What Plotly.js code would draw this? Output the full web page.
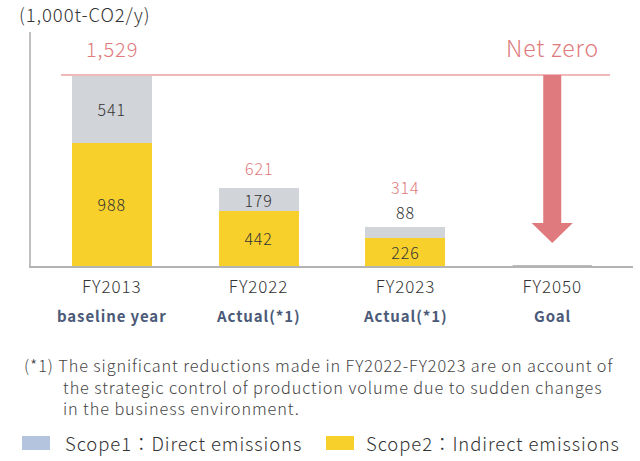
<!DOCTYPE html>
<html>
<head>
<meta charset="utf-8">
<script src="https://cdn.plot.ly/plotly-3.0.1.min.js"></script>
<style>
html,body{margin:0;padding:0;background:#fff;}
#chart{width:640px;height:461px;}
svg text{letter-spacing:0.9px;}
</style>
</head>
<body>
<div id="chart"></div>
<script>
// ---- data ----
const categories = ['FY2013', 'FY2022', 'FY2023', 'FY2050'];
const subLabels = ['baseline year', 'Actual(*1)', 'Actual(*1)', 'Goal'];
const scope1 = [541, 179, 88, 0];
const scope2 = [988, 442, 226, 0];
const totals = [1529, 621, 314];
const totalLabels = ['1,529', '621', '314'];
const scope1Labels = ['541', '179', '88', ''];
const scope2Labels = ['988', '442', '226', ''];
const unitLabel = '(1,000t-CO2/y)';
const goalLabel = 'Net zero';
const seriesNames = ['Scope1：Direct emissions', 'Scope2：Indirect emissions'];
const footnote = ['(*1) The significant reductions made in FY2022-FY2023 are on account of',
  'the strategic control of production volume due to sudden changes',
  'in the business environment.'];

// ---- style ----
const FONT = '"Noto Sans CJK JP", "Noto Sans", sans-serif';
const C1 = '#d1d4d9', C2 = '#f8d02c', C1LEG = '#b4c4df';
const PINK = '#e07a7d', PINKLINE = '#f1b7b9';
const TXT = '#333333';
const W = 640, H = 461, ML = 31, MR = 7, MT = 32, MB = 195;
const PW = W - ML - MR, PH = H - MT - MB;
const px = x => (x - ML) / PW;           // pixel -> paper x
const py = y => (H - MB - y) / PH;       // pixel -> paper y
const f = (size, color, weight) => ({ family: FONT, size: size, color: color, weight: weight || 300 });

const traces = [
  { type: 'bar', name: seriesNames[1], x: categories, y: scope2, marker: { color: C2 },
    text: scope2Labels, textposition: 'inside', insidetextanchor: 'middle', constraintext: 'none',
    textfont: f(16, TXT), hoverinfo: 'none', showlegend: false },
  { type: 'bar', name: seriesNames[0], x: categories, y: scope1, marker: { color: C1 },
    text: scope1Labels, textposition: ['inside', 'inside', 'outside', 'inside'], insidetextanchor: 'middle',
    constraintext: 'none', cliponaxis: false,
    textfont: f(16, TXT), hoverinfo: 'none', showlegend: false }
];

const annotations = [];
// totals
const totShift = [26, 20, 40];
totals.forEach((t, i) => {
  annotations.push({ x: categories[i], y: t, xref: 'x', yref: 'y', text: totalLabels[i], showarrow: false,
    yanchor: 'middle', yshift: totShift[i], font: f(i === 0 ? 20 : 16, PINK) });
});
// sub labels
subLabels.forEach((s, i) => {
  annotations.push({ x: categories[i], y: 0, xref: 'x', yref: 'y', text: s, showarrow: false,
    yanchor: 'middle', yshift: -49, font: f(15, '#4b5a78', 700) });
});
// net zero label
annotations.push({ x: 3, y: totals[0], xref: 'x', yref: 'y', text: goalLabel, showarrow: false,
  yanchor: 'middle', yshift: 28, font: f(23, PINK) });
// footnote: first line, then an indented block for the continuation lines
annotations.push({ x: px(22), y: py(365), xref: 'paper', yref: 'paper', xanchor: 'left',
  yanchor: 'middle', text: footnote[0], showarrow: false, align: 'left', font: f(16.3, '#444') });
annotations.push({ x: px(61), y: py(397), xref: 'paper', yref: 'paper', xanchor: 'left',
  yanchor: 'middle', text: footnote[1] + '<br>' + footnote[2], showarrow: false, align: 'left',
  font: f(16.3, '#444') });
// legend text
annotations.push({ x: px(63), y: py(443), xref: 'paper', yref: 'paper', xanchor: 'left', yanchor: 'middle',
  text: seriesNames[0], showarrow: false, font: f(18.5, TXT) });
annotations.push({ x: px(364), y: py(443), xref: 'paper', yref: 'paper', xanchor: 'left', yanchor: 'middle',
  text: seriesNames[1], showarrow: false, font: f(18.5, TXT) });

// arrow path (category units x, data units y)
const ax = 3, sh = 0.0613, hh = 0.14, headBase = 344, tipY = 184, arrowTop = totals[0];
const arrowPath = `M${ax - sh},${arrowTop} L${ax + sh},${arrowTop} L${ax + sh},${headBase} L${ax + hh},${headBase} ` +
  `L${ax},${tipY} L${ax - hh},${headBase} L${ax - sh},${headBase} Z`;

const shapes = [
  { type: 'line', xref: 'paper', yref: 'y', x0: px(61), x1: px(610), y0: totals[0], y1: totals[0],
    line: { color: PINKLINE, width: 2 }, layer: 'above' },
  { type: 'path', xref: 'x', yref: 'y', path: arrowPath, fillcolor: '#df7b7e', line: { width: 0 } },
  { type: 'line', xref: 'x', yref: 'y', x0: 3 - 0.27, x1: 3 + 0.27, y0: 0, y1: 0,
    line: { color: '#bbbbbb', width: 2 }, layer: 'above' },
  { type: 'rect', xref: 'paper', yref: 'paper', x0: px(22), x1: px(50), y0: py(450), y1: py(436),
    fillcolor: C1LEG, line: { width: 0 } },
  { type: 'rect', xref: 'paper', yref: 'paper', x0: px(326), x1: px(354), y0: py(450), y1: py(436),
    fillcolor: C2, line: { width: 0 } }
];

const layout = {
  width: W, height: H, margin: { l: ML, r: MR, t: MT, b: MB, pad: 0 },
  paper_bgcolor: '#fff', plot_bgcolor: '#fff',
  barmode: 'stack', bargap: 0.455, showlegend: false,
  font: { family: FONT, color: TXT },
  title: { text: unitLabel, xref: 'container', yref: 'container', x: 19 / W, xanchor: 'left',
    y: 1 - 16 / H, yanchor: 'middle', font: f(18.5, TXT) },
  xaxis: { type: 'category', categoryorder: 'array', categoryarray: categories, range: [-0.55, 3.55],
    showline: true, linecolor: '#b3b3b3', linewidth: 2, ticks: '', showgrid: false, zeroline: false,
    ticklabelstandoff: 5, tickfont: f(17, TXT), fixedrange: true },
  yaxis: { range: [0, 1873], showline: true, linecolor: '#c0c0c0', linewidth: 2.5, ticks: '',
    showticklabels: false, showgrid: false, zeroline: false, fixedrange: true },
  annotations: annotations, shapes: shapes
};

Plotly.newPlot('chart', traces, layout, { displayModeBar: false, staticPlot: true });
</script>
</body>
</html>
